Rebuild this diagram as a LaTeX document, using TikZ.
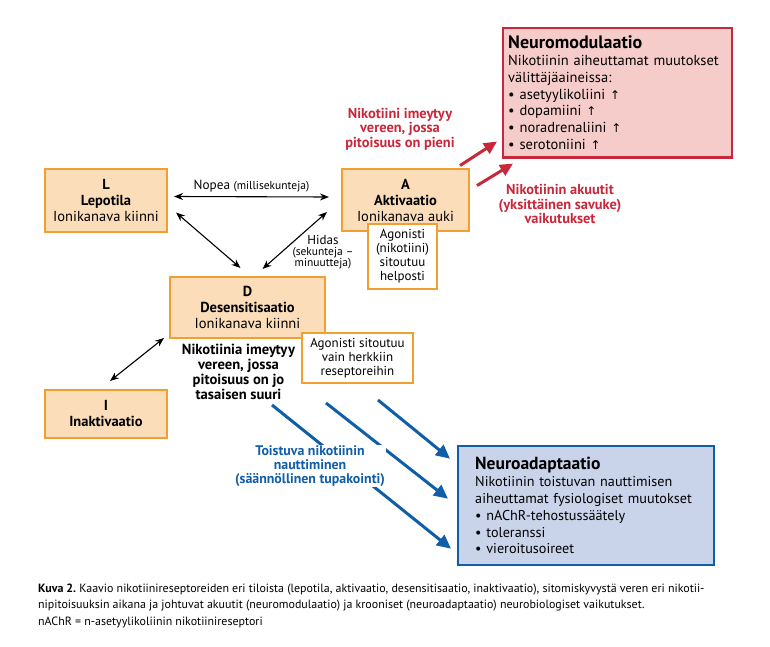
\documentclass[tikz,border=0pt]{standalone}
\usepackage{fontspec}
\setmainfont{PT Sans}
\newfontfamily\arrowfont{DejaVu Sans}
\usetikzlibrary{arrows.meta, positioning, calc}
\definecolor{stateline}{RGB}{240,160,50}
\definecolor{statefill}{RGB}{252,221,185}
\definecolor{modline}{RGB}{200,40,60}
\definecolor{modfill}{RGB}{246,204,202}
\definecolor{adaptline}{RGB}{16,94,168}
\definecolor{adaptfill}{RGB}{201,212,234}
\newcommand{\nousu}{{\arrowfont\fontsize{12}{12}\selectfont ↑}}
\tikzstyle{statebox}  = [rectangle, draw=stateline, fill=statefill, line width=2pt,
                         align=center, inner sep=3pt, font=\fontsize{14.5}{16}\selectfont]
\tikzstyle{notebox}   = [rectangle, draw=stateline, fill=white, line width=1.4pt,
                         align=center, inner sep=2pt, font=\fontsize{13}{14}\selectfont]
\tikzstyle{effectbox} = [rectangle, line width=2.4pt, align=left, inner sep=8pt]
\tikzstyle{darrow}    = [line width=1.1pt, {Stealth[length=9pt,width=7pt]}-{Stealth[length=9pt,width=7pt]}]
\tikzstyle{redarrow}  = [line width=3pt, draw=modline, -{Triangle[length=13pt,width=12pt]}]
\tikzstyle{bluearrow} = [line width=3pt, draw=adaptline, -{Triangle[length=14pt,width=13pt]}]
\tikzstyle{redlabel}  = [text=modline, align=center, font=\bfseries\fontsize{14.4}{14.5}\selectfont]

\begin{document}
\begin{tikzpicture}[x=1pt, y=-1pt]
  \useasboundingbox (0,0) rectangle (770,647);

  % --- Receptor states ---
  \node (lepo) [statebox, minimum width=122pt, minimum height=63pt] at (106,200.5)
        {\textbf{L}\\\textbf{Lepotila}\\Ionikanava kiinni};
  \node (akti) [statebox, minimum width=127pt, minimum height=62pt] at (405.5,200)
        {\textbf{A}\\\textbf{Aktivaatio}\\Ionikanava auki};
  \node (agon1) [notebox, minimum width=69pt, minimum height=65pt] at (402.5,256.5)
        {Agonisti\\(nikotiini)\\sitoutuu\\helposti};
  \node (desen) [statebox, minimum width=155pt, minimum height=61pt] at (247.5,307.5)
        {\textbf{D}\\\textbf{Desensitisaatio}\\Ionikanava kiinni};
  \node (agon2) [notebox, minimum width=111pt, minimum height=50pt] at (357.5,358)
        {Agonisti sitoutuu\\vain herkkiin\\reseptoreihin};
  \node (inakt) [statebox, minimum width=122pt, minimum height=48pt] at (106,414)
        {\textbf{I}\\\textbf{Inaktivaatio}};
  \node (d_note) [below=2pt of desen, xshift=-9pt, align=center,
                  font=\bfseries\fontsize{14.6}{14.8}\selectfont]
        {Nikotiinia imeytyy\\vereen, jossa\\pitoisuus on jo\\tasaisen suuri};

  % --- Effects ---
  \node (neuromod) [effectbox, draw=modline, fill=modfill, anchor=north west,
                    text width=219pt, inner xsep=5pt, minimum height=128pt,
                    font=\fontsize{14.5}{16.7}\selectfont] at (502,27)
        {{\fontsize{18}{19}\selectfont\textbf{Neuromodulaatio}}\\
         Nikotiinin aiheuttamat muutokset\\
         välittäjäaineissa:\\
         \textbullet\ asetyylikoliini \nousu\\
         \textbullet\ dopamiini \nousu\\
         \textbullet\ noradrenaliini \nousu\\
         \textbullet\ serotoniini \nousu};
  \node (neuroad) [effectbox, draw=adaptline, fill=adaptfill, anchor=north west,
                   text width=222pt, inner xsep=17pt, minimum height=119pt,
                   font=\fontsize{14.2}{16.8}\selectfont] at (457,445)
        {{\fontsize{17.5}{19}\selectfont\textbf{Neuroadaptaatio}}\\
         Nikotiinin toistuvan nauttimisen\\
         aiheuttamat fysiologiset muutokset\\
         \textbullet\ nAChR-tehostussäätely\\
         \textbullet\ toleranssi\\
         \textbullet\ vieroitusoireet};

  % Arrows between states
  \draw[darrow] ($(lepo.east)+(6,-4)$) -- node[above=1pt, font=\fontsize{13.2}{14}\selectfont]
        {Nopea {\fontsize{11.5}{12}\selectfont(millisekunteja)}} ($(akti.west)+(-12,-3)$);
  \draw[darrow] ($(lepo.east)+(8,12)$) -- ($(desen.north)+(-7,-8)$);
  \draw[darrow] ($(akti.west)+(-14,12)$) -- ($(desen.north)+(15,-7)$);
  \draw[darrow] ($(desen.south west)+(-5,-1)$) -- ($(inakt.north)+(4,-8)$);
  \node (hidas) [align=center, font=\fontsize{11.5}{10.8}\selectfont] at (323,252)
        {{\fontsize{13}{11}\selectfont Hidas}\\(sekunteja --\\minuutteja)};

  % Acute effects
  \draw[redarrow] ($(neuromod.south west)+(-42,7)$) -- ($(neuromod.south west)+(-5,-17)$);
  \draw[redarrow] ($(neuromod.south west)+(-25,27)$) -- ($(neuromod.south west)+(11,5)$);
  \node (imeytyy) [redlabel] at (400,129)
        {Nikotiini imeytyy\\vereen, jossa\\pitoisuus on pieni};
  \node (akuutit) [redlabel] at (560,204)
        {Nikotiinin akuutit\\(yksittäinen savuke)\\vaikutukset};

  % Chronic effects
  \coordinate (blue1) at (272,405);
  \coordinate (blue2) at (326,403);
  \coordinate (blue3) at (378,400);
  \draw[bluearrow] (blue1) -- ($(neuroad.west)+(-6,43)$);
  \draw[bluearrow] (blue2) -- ($(neuroad.west)+(-9,-7)$);
  \draw[bluearrow] (blue3) -- ($(neuroad.west)+(-7,-47)$);
  \node (toistuva) [fill=white, inner sep=1pt, text=adaptline, align=center,
                    font=\bfseries\fontsize{13.9}{13.6}\selectfont] at (310,466)
        {Toistuva nikotiinin\\nauttiminen\\(säännöllinen tupakointi)};

  % Caption
  \node (cap1) [anchor=west, inner sep=0pt, font=\fontsize{11.95}{13}\selectfont] at (38,590)
        {\textbf{Kuva 2.}\ Kaavio nikotiinireseptoreiden eri tiloista (lepotila, aktivaatio, desensitisaatio, inaktivaatio), sitomiskyvystä veren eri nikotii-};
  \node (cap2) [anchor=west, inner sep=0pt, font=\fontsize{11.95}{13}\selectfont] at (38,606)
        {nipitoisuuksin aikana ja johtuvat akuutit (neuromodulaatio) ja krooniset (neuroadaptaatio) neurobiologiset vaikutukset.};
  \node (cap3) [anchor=west, inner sep=0pt, font=\fontsize{11.95}{13}\selectfont] at (38,622)
        {nAChR = n-asetyylikoliinin nikotiinireseptori};

\end{tikzpicture}
\end{document}
